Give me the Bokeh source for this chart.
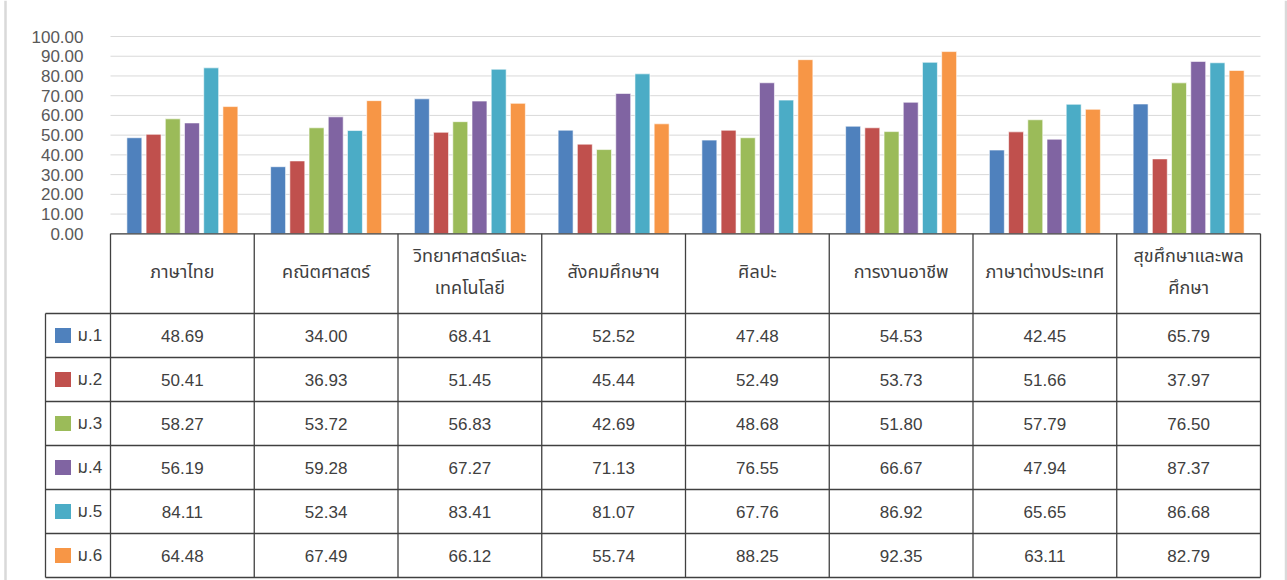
from bokeh.plotting import figure
from bokeh.models import Range1d, FixedTicker, NumeralTickFormatter, ColumnDataSource
from bokeh.transform import dodge
from bokeh.core.properties import value
from bokeh.embed import file_html
from bokeh.resources import INLINE

categories = ["ภาษาไทย", "คณิตศาสตร์", "วิทยาศาสตร์และเทคโนโลยี", "สังคมศึกษาฯ",
              "ศิลปะ", "การงานอาชีพ", "ภาษาต่างประเทศ", "สุขศึกษาและพลศึกษา"]
header_labels = ["ภาษาไทย", "คณิตศาสตร์", "วิทยาศาสตร์และ\nเทคโนโลยี", "สังคมศึกษาฯ",
                 "ศิลปะ", "การงานอาชีพ", "ภาษาต่างประเทศ", "สุขศึกษาและพล\nศึกษา"]
series = ["ม.1", "ม.2", "ม.3", "ม.4", "ม.5", "ม.6"]
m1 = [48.69, 34.00, 68.41, 52.52, 47.48, 54.53, 42.45, 65.79]
m2 = [50.41, 36.93, 51.45, 45.44, 52.49, 53.73, 51.66, 37.97]
m3 = [58.27, 53.72, 56.83, 42.69, 48.68, 51.80, 57.79, 76.50]
m4 = [56.19, 59.28, 67.27, 71.13, 76.55, 66.67, 47.94, 87.37]
m5 = [84.11, 52.34, 83.41, 81.07, 67.76, 86.92, 65.65, 86.68]
m6 = [64.48, 67.49, 66.12, 55.74, 88.25, 92.35, 63.11, 82.79]
values = [m1, m2, m3, m4, m5, m6]
colors = ["#4F81BD", "#C0504D", "#9BBB59", "#8064A2", "#4BACC6", "#F79646"]
yticks = [0, 10, 20, 30, 40, 50, 60, 70, 80, 90, 100]

FONT = "'Liberation Sans', 'Noto Sans Thai', 'Noto Sans', sans-serif"
W, Hpx = 1287, 580
n = len(categories)
ns = len(series)

# layout constants (pixels)
CW = 143.75          # column width in px  (1 x-unit)
PX = 1.973           # px per y-unit
plot_left_px = 110   # left edge of the category area
zero_px = 233.3      # y pixel of value 0
x_start = -plot_left_px / CW
x_end = x_start + W / CW
y_end = zero_px / PX
y_start = -(Hpx - zero_px) / PX

p = figure(width=W, height=Hpx,
           x_range=Range1d(x_start, x_end), y_range=Range1d(y_start, y_end),
           output_backend="svg", toolbar_location=None, x_axis_location=None,
           min_border_left=0, min_border_right=0, min_border_top=0, min_border_bottom=0)
p.outline_line_color = None
p.grid.visible = False

# chart-area frame (light gray side lines)
p.segment(x0=[(5 - plot_left_px) / CW, (1285.5 - plot_left_px) / CW], y0=[y_start, y_start],
          x1=[(5 - plot_left_px) / CW, (1285.5 - plot_left_px) / CW], y1=[y_end, y_end],
          line_color="#D9D9D9", line_width=2.5)

# horizontal gridlines
p.segment(x0=[0] * len(yticks), y0=yticks, x1=[n] * len(yticks), y1=yticks,
          line_color="#D9D9D9", line_width=1)

# bars
src = ColumnDataSource(dict(xc=[i + 0.5 for i in range(n)],
                            **{f"s{j}": v for j, v in enumerate(values)}))
pitch = 0.1336
for j in range(ns):
    off = (j - (ns - 1) / 2) * pitch
    p.vbar(x=dodge("xc", off), top=f"s{j}", bottom=0, width=0.104, source=src,
           fill_color=colors[j], line_color="white", line_width=0.6)

# y axis
p.yaxis.ticker = FixedTicker(ticks=yticks)
p.yaxis.formatter = NumeralTickFormatter(format="0.00")
p.yaxis.axis_line_color = None
p.yaxis.major_tick_line_color = None
p.yaxis.minor_tick_line_color = None
p.yaxis.major_tick_out = 0
p.yaxis.major_tick_in = 0
p.yaxis.major_label_standoff = -83
p.yaxis.major_label_text_font = FONT
p.yaxis.major_label_text_font_size = "17px"
p.yaxis.major_label_text_color = "#595959"

# ---------------- data table ----------------
Hu = 79.7 / PX       # header row height (y-units)
Ru = 44.0 / PX       # data row height (y-units)
legend_left = (45 - plot_left_px) / CW
bottom = -(Hu + Ru * ns)

x0, y0, x1, y1 = [], [], [], []
x0.append(0); y0.append(0); x1.append(n); y1.append(0)
for k in range(ns + 1):
    yy = -(Hu + k * Ru)
    x0.append(legend_left); y0.append(yy); x1.append(n); y1.append(yy)
x0.append(legend_left); y0.append(-Hu); x1.append(legend_left); y1.append(bottom)
for i in range(n + 1):
    x0.append(i); y0.append(0); x1.append(i); y1.append(bottom)
p.segment(x0=x0, y0=y0, x1=x1, y1=y1, line_color="#404040", line_width=1.3)

# header labels
p.text(x=[i + 0.5 for i in range(n)], y=[-Hu / 2 + 0.6] * n, text=header_labels,
       text_align="center", text_baseline="middle", text_font=value(FONT),
       text_font_size="18px", text_color="#404040", text_line_height=1.6)

# cell values
cx, cy, ct = [], [], []
for j, vals in enumerate(values):
    for i, v in enumerate(vals):
        cx.append(i + 0.5)
        cy.append(-(Hu + (j + 0.5) * Ru))
        ct.append(f"{v:.2f}")
p.text(x=cx, y=cy, text=ct, text_align="center", text_baseline="middle",
       text_font=value(FONT), text_font_size="17px", text_color="#404040")

# legend keys
ly = [-(Hu + (j + 0.5) * Ru) for j in range(ns)]
p.rect(x=[(62.5 - plot_left_px) / CW] * ns, y=ly, width=16, height=15,
       width_units="screen", height_units="screen", fill_color=colors, line_color=None)
p.text(x=[(77 - plot_left_px) / CW] * ns, y=ly, text=series, text_align="left",
       text_baseline="middle", text_font=value(FONT), text_font_size="17px",
       text_color="#404040")

open("out.html", "w").write(file_html(p, INLINE))
